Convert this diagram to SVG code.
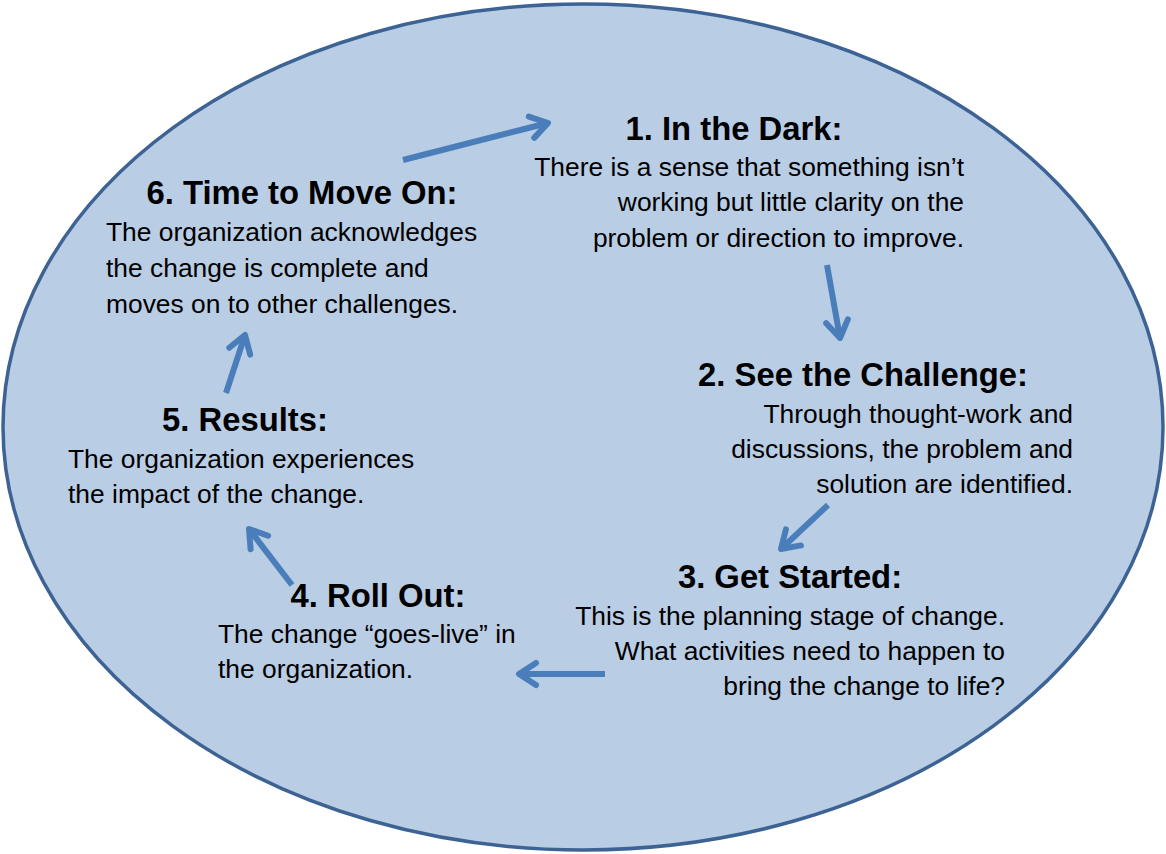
<svg xmlns="http://www.w3.org/2000/svg" width="1166" height="854" viewBox="0 0 1166 854">
<style>
.h{font-family:"Liberation Sans",Arial,sans-serif;font-weight:bold;font-size:32.8px;fill:#000;text-anchor:middle}
.b{font-family:"Liberation Sans",Arial,sans-serif;font-size:26.4px;fill:#000}
.r{text-anchor:end}
.l{text-anchor:start}
.c{stroke:#4a7ebb;stroke-width:6;fill:none;marker-end:url(#ah)}
</style>
<defs>
<marker id="ah" markerUnits="userSpaceOnUse" markerWidth="40" markerHeight="40" refX="0" refY="0" viewBox="-25 -20 40 40" orient="auto">
<path d="M-17,-11 L0,0 L-17,11" fill="none" stroke="#4a7ebb" stroke-width="6" stroke-linecap="round" stroke-linejoin="round"/>
</marker>
</defs>
<ellipse id="background" cx="583" cy="427" rx="580" ry="423" fill="#b9cde5" stroke="#3d6394" stroke-width="3.5"/>
<g id="connectors">
<line class="c" x1="403" y1="160" x2="548" y2="123"/>
<line class="c" x1="827" y1="265" x2="840" y2="338"/>
<line class="c" x1="828" y1="505" x2="781" y2="549"/>
<line class="c" x1="605" y1="674" x2="519" y2="674"/>
<line class="c" x1="292" y1="585" x2="249" y2="529"/>
<line class="c" x1="226" y1="393" x2="245" y2="335"/>
</g>
<g id="node1">
<text class="h" x="734" y="140">1. In the Dark:</text>
<text class="b r" x="964" y="176">There is a sense that something isn’t</text>
<text class="b r" x="964" y="211">working but little clarity on the</text>
<text class="b r" x="964" y="247">problem or direction to improve.</text>
</g>
<g id="node2">
<text class="h" x="863" y="386">2. See the Challenge:</text>
<text class="b r" x="1073" y="423">Through thought-work and</text>
<text class="b r" x="1073" y="458">discussions, the problem and</text>
<text class="b r" x="1073" y="493">solution are identified.</text>
</g>
<g id="node3">
<text class="h" x="790" y="588">3. Get Started:</text>
<text class="b r" x="1005" y="625">This is the planning stage of change.</text>
<text class="b r" x="1005" y="660">What activities need to happen to</text>
<text class="b r" x="1005" y="695">bring the change to life?</text>
</g>
<g id="node4">
<text class="h" x="378" y="607">4. Roll Out:</text>
<text class="b l" x="218" y="643">The change “goes-live” in</text>
<text class="b l" x="218" y="678">the organization.</text>
</g>
<g id="node5">
<text class="h" x="245" y="431">5. Results:</text>
<text class="b l" x="68" y="468">The organization experiences</text>
<text class="b l" x="68" y="503">the impact of the change.</text>
</g>
<g id="node6">
<text class="h" x="302" y="204">6. Time to Move On:</text>
<text class="b l" x="106" y="241">The organization acknowledges</text>
<text class="b l" x="106" y="277">the change is complete and</text>
<text class="b l" x="106" y="313">moves on to other challenges.</text>
</g>
</svg>
